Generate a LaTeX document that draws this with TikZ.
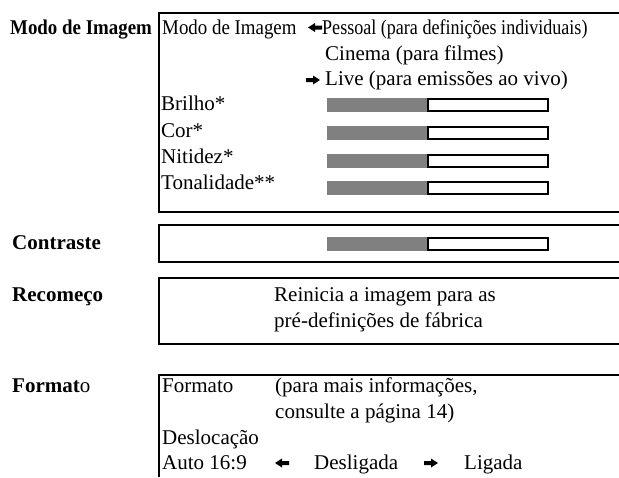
\documentclass[tikz,border=0pt]{standalone}
\usepackage{fontspec}
\setmainfont{Liberation Serif}
\newfontfamily\narrowserif[FakeStretch=0.9]{Liberation Serif}
\newfontfamily\narrowerserif[FakeStretch=0.86]{Liberation Serif}

\begin{document}
\begin{tikzpicture}[x=1pt,y=-1pt,
    every node/.style={inner sep=0pt,anchor=base west,font=\fontsize{21}{25}\selectfont},
    lbl/.style={font=\fontsize{21}{25}\selectfont\bfseries},
    frame/.style={line width=2pt},
    pics/pointer/.style={code={
      \fill (-7,0) -- (0,-4.5) -- (0,-2) -- (7,-2) -- (7,2) -- (0,2) -- (0,4.5) -- cycle;}}]
  \useasboundingbox (0,0) rectangle (619,477);
  % labels on the left
  \node[lbl] (modolbl) at (10,34) {\narrowserif\bfseries Modo de Imagem};
  \node[lbl] (contrlbl) at (12,249) {Contraste};
  \node[lbl] (recomlbl) at (12,301) {Recomeço};
  \node[lbl] (formlbl) at (12,392) {Format\mdseries o};
  % frames, open to the right
  \draw [frame] (619,13) -- (159,13) -- (159,212) -- (619,212);
  \draw [frame] (619,225) -- (159,225) -- (159,262) -- (619,262);
  \draw [frame] (619,278) -- (159,278) -- (159,344) -- (619,344);
  \draw [frame] (619,375) -- (159,375) -- (159,477);
  % picture mode
  \node (modo) at (162,34) {\narrowserif Modo de Imagem};
  \pic at (315,27.5) {pointer};
  \node (pessoal) at (322,34) {\narrowerserif Pessoal (para definições individuais)};
  \node (cinema) at (325,60) {Cinema (para filmes)};
  \pic[xscale=-1] at (313,80) {pointer};
  \node (live) at (325,85) {Live (para emissões ao vivo)};
  \node (brilho) at (161,110) {Brilho*};
  \node (cor) at (161,137) {Cor*};
  \node (nitidez) at (161,163) {Nitidez*};
  \node (tonal) at (161,189) {Tonalidade**};
  % sliders
  \foreach \y in {105,133,161,188,244}{
    \fill [gray] (327,\y-7) rectangle (428,\y+7);
    \draw [line width=1.6pt] (428,\y-6) rectangle (548,\y+6);
  }
  % reset
  \node (reinicia) at (274,301) {Reinicia a imagem para as};
  \node (fabrica) at (274,327) {pré-definições de fábrica};
  % format
  \node (formato) at (162,392) {Formato};
  \node (paramais) at (275,392) {(para mais informações,};
  \node (consulte) at (275,418) {consulte a página 14)};
  \node (desloc) at (162,444) {Deslocação};
  \node (auto) at (162,469) {Auto 16:9};
  \pic at (282,463) {pointer};
  \node (deslig) at (314,469) {Desligada};
  \pic[xscale=-1] at (431,463) {pointer};
  \node (ligada) at (464,469) {Ligada};
\end{tikzpicture}
\end{document}
